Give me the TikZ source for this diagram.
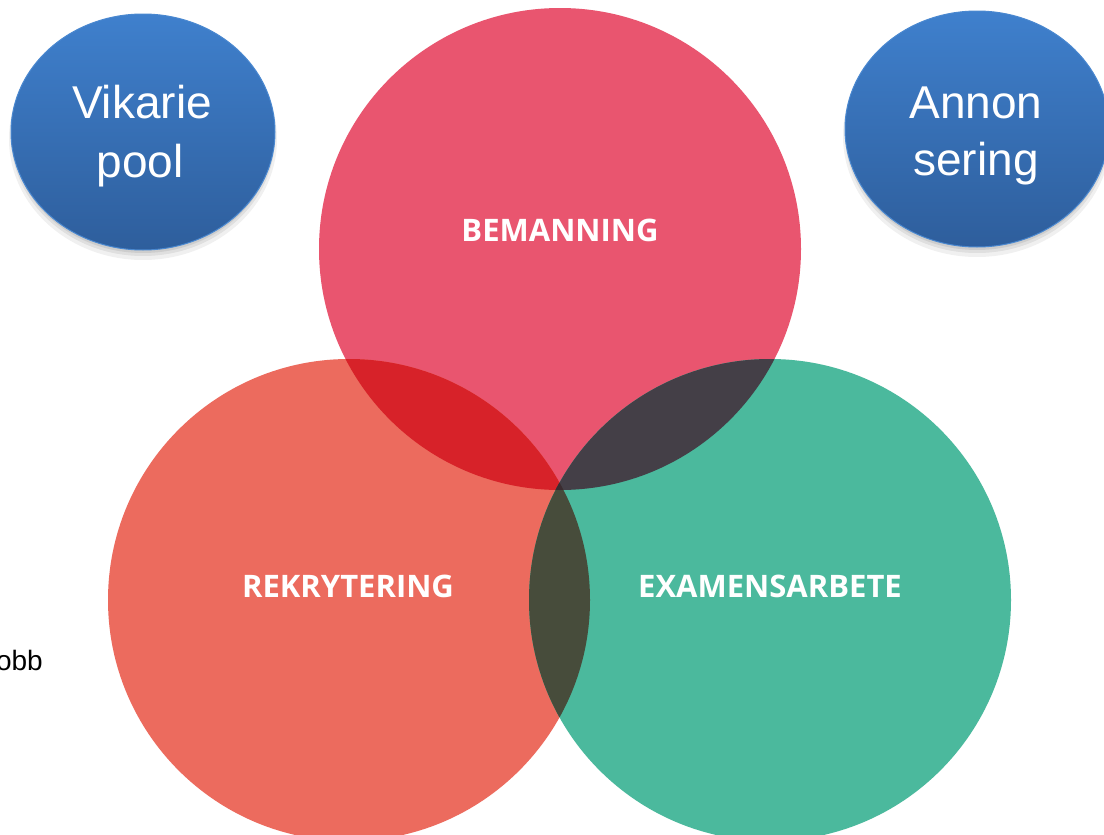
\documentclass[tikz,border=0pt]{standalone}
\usepackage{fontspec}
\setmainfont{Liberation Sans}
\newfontfamily\labelfont{Open Sans}
\usetikzlibrary{shapes.geometric}
\definecolor{bempink}{HTML}{E9556F}
\definecolor{reksalmon}{HTML}{EC6B5E}
\definecolor{exgreen}{HTML}{4BB99D}
\definecolor{lensTL}{HTML}{D72229}
\definecolor{lensTR}{HTML}{443F47}
\definecolor{lensLR}{HTML}{474C3B}
\definecolor{lensAll}{HTML}{3A2B30}
\definecolor{bubtop}{HTML}{3F80CD}
\definecolor{bubbot}{HTML}{2E5E9C}
\definecolor{bubedge}{HTML}{4A88D0}
\begin{document}
\begin{tikzpicture}[x=1pt,y=-1pt,
  venn/.style={circle, minimum size=482pt, inner sep=0pt, draw=none},
  vennlabel/.style={text=white, font=\labelfont\bfseries\fontsize{31}{36}\selectfont, anchor=base, inner sep=0pt},
  bubble/.style={ellipse, minimum width=264pt, minimum height=236pt, inner sep=0pt, top color=bubtop, bottom color=bubbot, draw=bubedge, line width=1pt},
  bubtext/.style={text=white, font=\fontsize{46}{56}\selectfont, anchor=base, inner sep=0pt},
  plaintext/.style={text=black, font=\fontsize{28}{32}\selectfont, inner sep=0pt}
]
\useasboundingbox (0,0) rectangle (1104,835);
\fill[white] (0,0) rectangle (1104,835);

% shadows of blue bubbles
\foreach \cx/\cy in {143/132, 977/129}{
  \fill[black, opacity=0.06] (\cx,\cy+7) ellipse [x radius=134pt, y radius=121pt];
  \fill[black, opacity=0.07] (\cx,\cy+5) ellipse [x radius=132pt, y radius=119pt];
  \fill[black, opacity=0.08] (\cx,\cy+3) ellipse [x radius=131pt, y radius=118pt];
}

% blue bubbles
\node[bubble] (vik) at (143,132) {};
\node[bubble] (ann) at (977,129) {};
\node[bubtext] (vik1) at (142,118) {Vikarie};
\node[bubtext] (vik2) at (140,177) {pool};
\node[bubtext] (ann1) at (976,118) {Annon};
\node[bubtext] (ann2) at (976,175) {sering};

% venn circles
\node[venn, fill=bempink] (bem) at (560,249) {};
\node[venn, fill=reksalmon] (rek) at (349,600) {};
\node[venn, fill=exgreen] (exa) at (770,600) {};

% lenses
\begin{scope}
  \clip (560,249) circle (241pt);
  \fill[lensTL] (349,600) circle (241pt);
\end{scope}
\begin{scope}
  \clip (560,249) circle (241pt);
  \fill[lensTR] (770,600) circle (241pt);
\end{scope}
\begin{scope}
  \clip (349,600) circle (241pt);
  \fill[lensLR] (770,600) circle (241pt);
\end{scope}
\begin{scope}
  \clip (560,249) circle (241pt);
  \clip (349,600) circle (241pt);
  \fill[lensAll] (770,600) circle (241pt);
\end{scope}

% labels
\node[vennlabel] (bemt) at (560,241) {BEMANNING};
\node[vennlabel] (rekt) at (348,597) {REKRYTERING};
\node[vennlabel] (exat) at (770,597) {EXAMENSARBETE};

% cut-off text at left
\node[plaintext, anchor=base east] (obb) at (43,670) {obb};
\end{tikzpicture}
\end{document}
